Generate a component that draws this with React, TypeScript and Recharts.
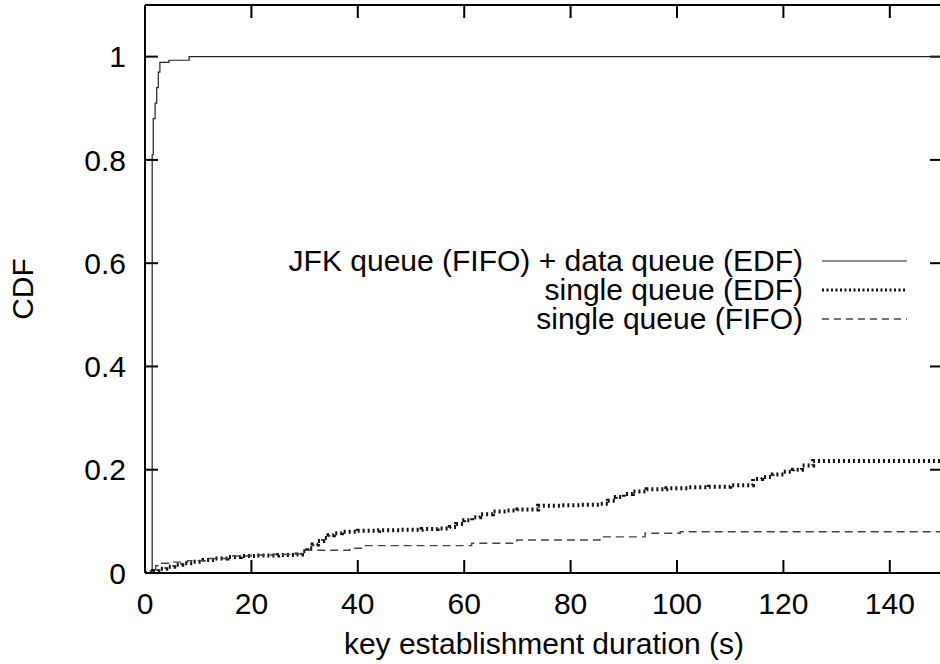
import React from 'react';
import { LineChart, Line, XAxis, YAxis, Legend, ReferenceLine } from 'recharts';

// time (s) and CDF values
const jfkTimes = [0, 1.35, 1.55, 1.9, 2.2, 2.5, 2.8, 4.5, 8.3, 150];
const jfkCdf = [0, 0.81, 0.88, 0.91, 0.94, 0.97, 0.989, 0.993, 1.0, 1.0];

const edfTimes = [
  0, 1.5, 2.5, 4, 5.5, 7, 9, 11, 13, 15.5, 18, 21, 25, 28.5, 29.5, 30.5, 31.5, 32.5, 33.5, 34.5,
  35.5, 37, 40, 44, 48, 52, 55, 57.3, 58.5, 60, 61.5, 63, 65.4, 68, 70, 73.9, 78, 82, 85.5, 87,
  88.5, 90, 91.7, 94.3, 98, 102, 106, 110, 114.3, 116, 118, 120, 121.8, 123.5, 125.6, 150,
];
const edfCdf = [
  0, 0.004, 0.008, 0.012, 0.016, 0.019, 0.022, 0.025, 0.028, 0.031, 0.033, 0.034, 0.035, 0.036,
  0.042, 0.048, 0.055, 0.062, 0.068, 0.073, 0.077, 0.08, 0.082, 0.083, 0.084, 0.085, 0.086, 0.089,
  0.095, 0.102, 0.108, 0.114, 0.119, 0.121, 0.123, 0.13, 0.131, 0.132, 0.134, 0.14, 0.147, 0.153,
  0.158, 0.162, 0.164, 0.166, 0.167, 0.17, 0.182, 0.186, 0.191, 0.196, 0.2, 0.208, 0.217, 0.217,
];

const fifoTimes = [0, 1, 2, 3, 5, 8, 12, 16, 20, 24, 28.5, 30, 38.5, 41, 61.4, 69.9, 85.5, 94, 100.6, 150];
const fifoCdf = [
  0, 0.006, 0.014, 0.019, 0.021, 0.024, 0.028, 0.033, 0.035, 0.036, 0.037, 0.044, 0.048, 0.053,
  0.0575, 0.064, 0.07, 0.077, 0.08, 0.08,
];

const xTicks = [0, 20, 40, 60, 80, 100, 120, 140];
const yTicks = [0, 0.2, 0.4, 0.6, 0.8, 1];
const X_MAX = 150;
const Y_MAX = 1.1;

const toPoints = (times: number[], cdf: number[]) => times.map((t, i) => ({ t, cdf: cdf[i] }));

const series = [
  { name: 'JFK queue (FIFO) + data queue (EDF)', data: toPoints(jfkTimes, jfkCdf), color: '#222', width: 1.2, dash: undefined, legendDash: undefined, legendWidth: 1.2 },
  { name: 'single queue (EDF)', data: toPoints(edfTimes, edfCdf), color: '#111', width: 4, dash: '2 3', legendDash: '2 2.5', legendWidth: 3 },
  { name: 'single queue (FIFO)', data: toPoints(fifoTimes, fifoCdf), color: '#444', width: 1.4, dash: '8 5', legendDash: '7 5', legendWidth: 1.4 },
];

const FONT = '"Liberation Sans", Arial, Helvetica, sans-serif';
const FS = 30;
const W = 960;
const H = 664;
const MARGIN = { top: 5, right: 17, bottom: 0, left: 0 };
const Y_AXIS_W = 145;
const X_AXIS_H = 91;

// inward tick length (13px) expressed in data units of each axis
const PLOT_W = W - MARGIN.left - MARGIN.right - Y_AXIS_W;
const PLOT_H = H - MARGIN.top - MARGIN.bottom - X_AXIS_H;
const TICK_DX = (13 * X_MAX) / PLOT_W;
const TICK_DY = (13 * Y_MAX) / PLOT_H;

const renderLegend = () => (
  <div style={{ display: 'flex', flexDirection: 'column', alignItems: 'flex-end' }}>
    {series.map((s) => (
      <div key={s.name} style={{ display: 'flex', alignItems: 'center', height: 29, lineHeight: '29px', fontSize: FS, color: '#000', whiteSpace: 'nowrap' }}>
        <span>{s.name}</span>
        <svg width={85} height={10} style={{ marginLeft: 19 }}>
          <line x1={0} x2={85} y1={5} y2={5} stroke={s.color} strokeWidth={s.legendWidth} strokeDasharray={s.legendDash} />
        </svg>
      </div>
    ))}
  </div>
);

const CdfLabel = (props: any) => {
  const { viewBox } = props;
  const x = viewBox.x + 22;
  const y = viewBox.y + viewBox.height / 2;
  return (
    <text x={x} y={y} transform={`rotate(-90, ${x}, ${y})`} textAnchor="middle" dominantBaseline="central" fontSize={FS} fill="#000">
      CDF
    </text>
  );
};

const frame = { stroke: '#000', strokeWidth: 2, ifOverflow: 'visible' as const, xAxisId: 'b', yAxisId: 'l' };

export default function App() {
  return (
    <div style={{ position: 'absolute', left: 0, top: 0, width: 940, height: 664, overflow: 'hidden', background: '#fff', fontFamily: FONT }}>
      <LineChart width={W} height={H} margin={MARGIN}>
        <XAxis xAxisId="b" type="number" dataKey="t" domain={[0, X_MAX]} ticks={xTicks} orientation="bottom" height={X_AXIS_H}
          axisLine={{ stroke: '#000', strokeWidth: 2 }} tickLine={false} tickSize={0} tickMargin={20}
          tick={{ fill: '#000', fontSize: FS }} allowDataOverflow
          label={{ value: 'key establishment duration (s)', position: 'insideBottom', offset: 10, fill: '#000', fontSize: FS }} />
        <YAxis yAxisId="l" type="number" domain={[0, Y_MAX]} ticks={yTicks} width={Y_AXIS_W}
          axisLine={{ stroke: '#000', strokeWidth: 2 }} tickLine={false} tickSize={0} tickMargin={19}
          tick={{ fill: '#000', fontSize: FS }} allowDataOverflow
          label={<CdfLabel />} />
        {/* top and right borders of the frame */}
        <ReferenceLine y={Y_MAX} {...frame} />
        <ReferenceLine x={X_MAX} {...frame} />
        {/* gnuplot-style inward ticks on all four sides */}
        {xTicks.map((t) => (
          <ReferenceLine key={`b${t}`} segment={[{ x: t, y: 0 }, { x: t, y: TICK_DY }]} {...frame} />
        ))}
        {xTicks.map((t) => (
          <ReferenceLine key={`t${t}`} segment={[{ x: t, y: Y_MAX }, { x: t, y: Y_MAX - TICK_DY }]} {...frame} />
        ))}
        {yTicks.map((v) => (
          <ReferenceLine key={`l${v}`} segment={[{ x: 0, y: v }, { x: TICK_DX, y: v }]} {...frame} />
        ))}
        {yTicks.map((v) => (
          <ReferenceLine key={`r${v}`} segment={[{ x: X_MAX - TICK_DX, y: v }, { x: X_MAX, y: v }]} {...frame} />
        ))}
        <Legend layout="vertical" align="center" verticalAlign="middle" content={renderLegend}
          wrapperStyle={{ left: 'auto', right: 53, top: 246, width: 'auto' }} />
        {series.map((s) => (
          <Line key={s.name} xAxisId="b" yAxisId="l" data={s.data} dataKey="cdf" name={s.name} type="stepAfter"
            stroke={s.color} strokeWidth={s.width} strokeDasharray={s.dash} dot={false} isAnimationActive={false} />
        ))}
      </LineChart>
    </div>
  );
}
